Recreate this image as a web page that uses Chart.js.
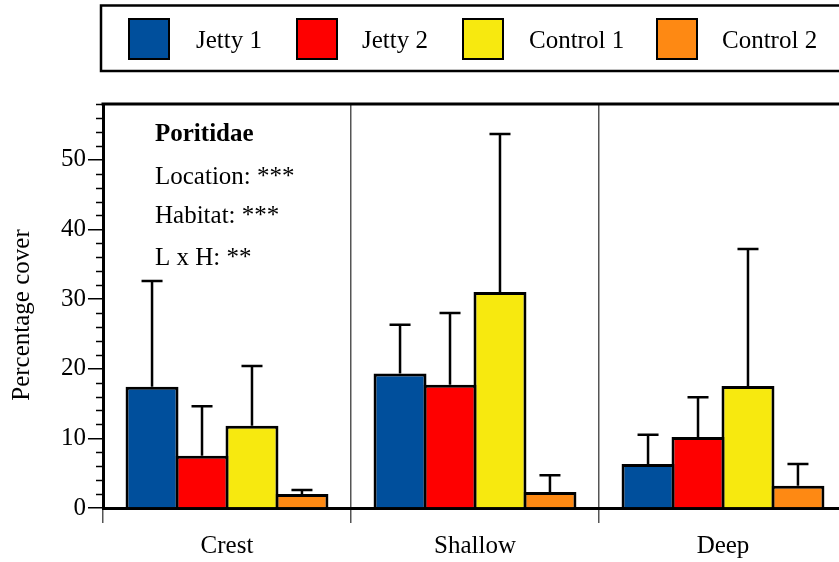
<!DOCTYPE html>
<html>
<head>
<meta charset="utf-8">
<script src="https://cdn.jsdelivr.net/npm/chart.js@4/dist/chart.umd.min.js"></script>
<style>
  html, body { margin: 0; padding: 0; background: #fff; overflow: hidden; }
  #wrap { width: 839px; height: 562px; overflow: hidden; }
</style>
</head>
<body>
<div id="wrap"><canvas id="chart" width="860" height="562"></canvas></div>
<script>
// data
var categories = ["Crest", "Shallow", "Deep"];
var seriesNames = ["Jetty 1", "Jetty 2", "Control 1", "Control 2"];
var seriesColors = ["#004f9c", "#fe0000", "#f7e90f", "#fe8913"];

var jetty1 = [17.4, 19.3, 6.3];
var jetty2 = [7.5, 17.7, 10.2];
var control1 = [11.8, 31.0, 17.5];
var control2 = [2.0, 2.3, 3.2];

// upper error (SE) above each mean
var jetty1Err = [15.2, 7.0, 4.2];
var jetty2Err = [7.1, 10.3, 5.7];
var control1Err = [8.6, 22.7, 19.7];
var control2Err = [0.6, 2.4, 3.1];

var yTicks = [0, 10, 20, 30, 40, 50];
var yMax = 58;

var notes = ["Poritidae", "Location: ***", "Habitat: ***", "L x H: **"];

var FONT = "'Liberation Serif', 'Times New Roman', serif";

var allValues = [jetty1, jetty2, control1, control2];
var allErrors = [jetty1Err, jetty2Err, control1Err, control2Err];

var datasets = [];
for (var i = 0; i < seriesNames.length; i++) {
  datasets.push({
    label: seriesNames[i],
    data: allValues[i],
    errors: allErrors[i],
    backgroundColor: seriesColors[i],
    borderColor: "#000",
    borderWidth: 3,
    categoryPercentage: 0.806,
    barPercentage: 1.06
  });
}

// error bars, minor ticks, frame, legend and text
var extras = {
  id: "extras",
  afterDatasetsDraw: function (chart) {
    var ctx = chart.ctx;
    var y = chart.scales.y;
    ctx.save();
    ctx.strokeStyle = "#000";
    ctx.lineWidth = 2.5;
    chart.data.datasets.forEach(function (ds, di) {
      var meta = chart.getDatasetMeta(di);
      meta.data.forEach(function (bar, j) {
        var top = y.getPixelForValue(ds.data[j] + ds.errors[j]);
        ctx.beginPath();
        ctx.moveTo(bar.x, bar.y);
        ctx.lineTo(bar.x, top);
        ctx.moveTo(bar.x - 10.5, top);
        ctx.lineTo(bar.x + 10.5, top);
        ctx.stroke();
      });
    });
    ctx.restore();
  },
  afterDraw: function (chart) {
    var ctx = chart.ctx;
    var a = chart.chartArea;
    var y = chart.scales.y;
    ctx.save();

    // minor ticks every 2
    ctx.strokeStyle = "#000";
    ctx.lineWidth = 1.5;
    for (var v = 2; v <= yMax; v += 2) {
      if (v % 10 === 0) continue;
      var py = Math.round(y.getPixelForValue(v)) + 0.5;
      ctx.beginPath();
      ctx.moveTo(a.left - 7, py);
      ctx.lineTo(a.left, py);
      ctx.stroke();
    }

    // top frame line
    ctx.lineWidth = 3;
    ctx.beginPath();
    ctx.moveTo(a.left - 1.5, a.top);
    ctx.lineTo(a.right + 20, a.top);
    ctx.stroke();

    // y title
    ctx.fillStyle = "#000";
    ctx.font = "25px " + FONT;
    ctx.textAlign = "center";
    ctx.textBaseline = "middle";
    ctx.translate(22, 315);
    ctx.rotate(-Math.PI / 2);
    ctx.fillText("Percentage cover", 0, 0);
    ctx.setTransform(1, 0, 0, 1, 0, 0);

    // notes
    ctx.textAlign = "left";
    ctx.textBaseline = "alphabetic";
    var noteY = [141, 184, 223, 265];
    notes.forEach(function (t, k) {
      ctx.font = (k === 0 ? "bold " : "") + "25px " + FONT;
      ctx.fillText(t, a.left + 52, noteY[k]);
    });

    // legend box
    ctx.lineWidth = 2.5;
    ctx.strokeRect(101, 5.5, 800, 65.5);
    var swX = [129, 297, 463, 657];
    var txX = [196, 362, 529, 722];
    chart.data.datasets.forEach(function (ds, k) {
      ctx.fillStyle = ds.backgroundColor;
      ctx.fillRect(swX[k], 19, 40, 40);
      ctx.lineWidth = 2;
      ctx.strokeRect(swX[k], 19, 40, 40);
      ctx.fillStyle = "#000";
      ctx.font = "25px " + FONT;
      ctx.fillText(ds.label, txX[k], 48);
    });
    ctx.restore();
  }
};

new Chart(document.getElementById("chart"), {
  type: "bar",
  data: { labels: categories, datasets: datasets },
  options: {
    responsive: false,
    animation: false,
    layout: { padding: { top: 104, right: 13, left: 0, bottom: 0 } },
    plugins: { legend: { display: false }, tooltip: { enabled: false } },
    scales: {
      x: {
        offset: true,
        grid: { offset: true, color: "#555", lineWidth: 1.5, tickLength: 15, drawOnChartArea: true },
        border: { display: true, color: "#000", width: 3 },
        ticks: { color: "#000", font: { family: FONT, size: 25 }, padding: 8 },
        afterFit: function (s) { s.height = 54; }
      },
      y: {
        min: 0,
        max: yMax,
        grid: { drawOnChartArea: false, color: "#000", lineWidth: 1.5, tickLength: 15 },
        border: { display: true, color: "#000", width: 3 },
        ticks: { color: "#000", font: { family: FONT, size: 25 }, padding: 2 },
        afterBuildTicks: function (s) { s.ticks = yTicks.map(function (v) { return { value: v }; }); },
        afterFit: function (s) { s.width = 103; }
      }
    }
  },
  plugins: [extras]
});
</script>
</body>
</html>
